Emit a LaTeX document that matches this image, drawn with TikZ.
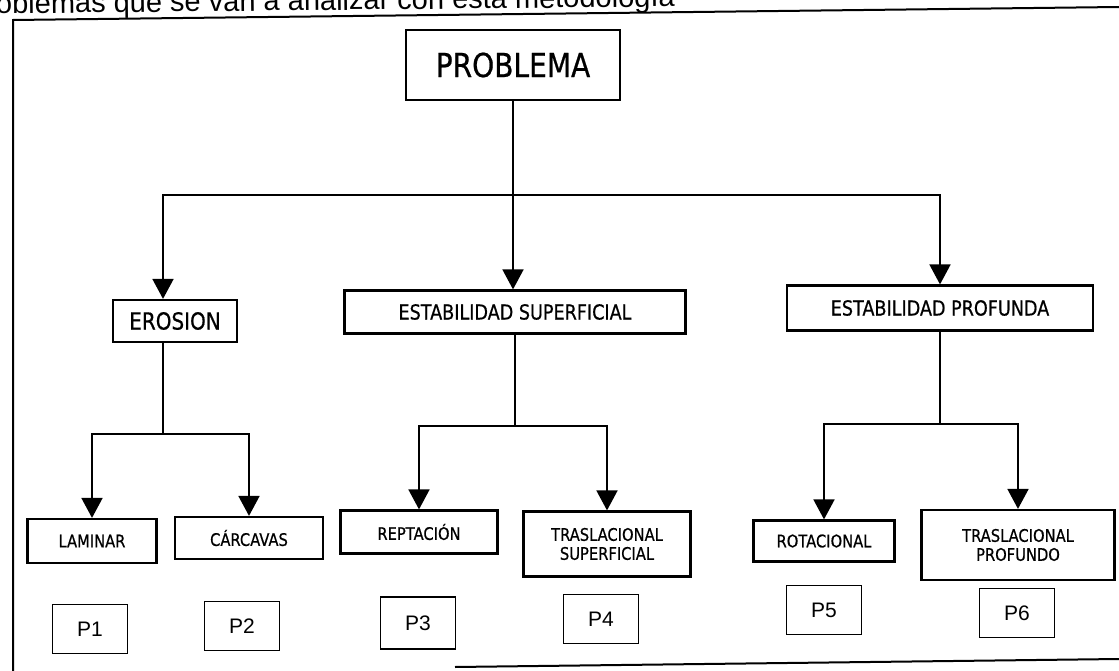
\documentclass[tikz,border=0pt]{standalone}
\usepackage{fontspec}
\setmainfont{Liberation Sans}
\newfontfamily\boxfont{DejaVu Sans}[FakeStretch=0.85,FakeBold=0.6]
\usetikzlibrary{arrows.meta}

\begin{document}
\begin{tikzpicture}[
  x=1pt,y=-1pt,
  box/.style={rectangle,draw,line width=2.2pt,inner sep=0pt,align=center},
  topbox/.style={box,minimum width=214pt,minimum height=70pt,font=\boxfont\fontsize{33}{36}\selectfont},
  groupbox/.style={box,minimum height=43pt,font=\boxfont\fontsize{20.7}{23}\selectfont},
  leafbox/.style={box,minimum height=42pt,font=\boxfont\fontsize{17.3}{19}\selectfont},
  pbox/.style={box,line width=1.8pt,minimum width=75pt,minimum height=49pt,font=\fontsize{21}{23}\selectfont},
  link/.style={line width=1.8pt},
  arrow/.style={link,-{Triangle[width=21pt,length=20pt]}},
  frame/.style={line width=2pt}
]
\path[use as bounding box,fill=white] (0,0) rectangle (1119,671);

% Caption line (cut by the page edge)
\node[anchor=base west,inner sep=0pt,rotate=0.6,font=\fontsize{29}{32}\selectfont] (intro) at (-33,14) {Problemas que se van a analizar con esta metodología};

% Frame
\draw[frame] (13,671) -- (13,20) -- (1119,7);
\draw[frame] (455,667) -- (1119,659);

% Root
\node[topbox] (problema) at (513,65) {PROBLEMA};

% Groups
\node[groupbox,minimum width=124pt,minimum height=42pt,font=\boxfont\fontsize{23.5}{25}\selectfont] (erosion) at (175,321) {EROSION};
\node[groupbox,minimum width=341pt] (estsup) at (515,312) {ESTABILIDAD SUPERFICIAL};
\node[groupbox,minimum width=306pt,minimum height=45pt] (estprof) at (940,308) {ESTABILIDAD PROFUNDA};

% Types
\node[leafbox,minimum width=129pt,minimum height=44pt] (laminar) at (92,541) {LAMINAR};
\node[leafbox,minimum width=148pt] (carcavas) at (249,538) {CÁRCAVAS};
\node[leafbox,minimum width=157pt,minimum height=43pt] (reptacion) at (419,532) {REPTACIÓN};
\node[leafbox,minimum width=167pt,minimum height=65pt] (trassup) at (607,544) {TRASLACIONAL\\SUPERFICIAL};
\node[leafbox,minimum width=141pt,minimum height=41pt] (rotacional) at (824,541) {ROTACIONAL};
\node[leafbox,minimum width=193pt,minimum height=70pt] (trasprof) at (1018,545) {TRASLACIONAL\\PROFUNDO};

% Problems
\node[pbox] (p1) at (90,629) {P1};
\node[pbox] (p2) at (242,626) {P2};
\node[pbox,minimum height=52pt] (p3) at (418,623) {P3};
\node[pbox] (p4) at (601,619) {P4};
\node[pbox] (p5) at (824,610) {P5};
\node[pbox] (p6) at (1017,613) {P6};

% Junctions
\coordinate (split) at (513,195);
\coordinate (erosionsplit) at (163,434);
\coordinate (supsplit) at (515,426);
\coordinate (profsplit) at (940,424);

% Arrows
\draw[link] (problema) -- (split);
\draw[arrow] (split) -| ([xshift=-12pt]erosion.north);
\draw[arrow] (split) -- (split |- estsup.north);
\draw[arrow] (split) -| (estprof.north);
\draw[link] ([xshift=-12pt]erosion.south) -- (erosionsplit);
\draw[arrow] (erosionsplit) -| (laminar.north);
\draw[arrow] (erosionsplit) -| (carcavas.north);
\draw[link] (estsup) -- (supsplit);
\draw[arrow] (supsplit) -| (reptacion.north);
\draw[arrow] (supsplit) -| (trassup.north);
\draw[link] (estprof) -- (profsplit);
\draw[arrow] (profsplit) -| (rotacional.north);
\draw[arrow] (profsplit) -| (trasprof.north);

\end{tikzpicture}
\end{document}
